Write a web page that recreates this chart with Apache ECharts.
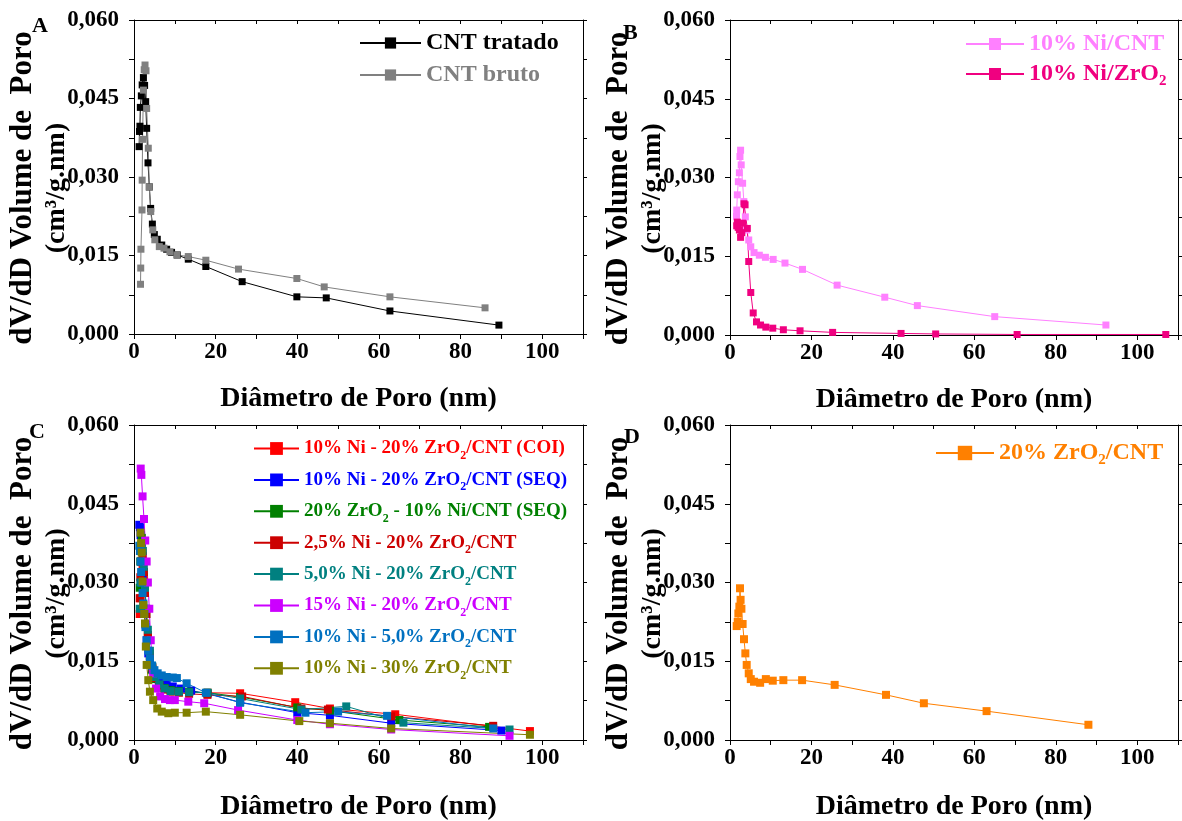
<!DOCTYPE html>
<html><head><meta charset="utf-8">
<script src="https://cdn.jsdelivr.net/npm/echarts@6/dist/echarts.min.js"></script>
<style>html,body{margin:0;padding:0;background:#fff}#c{width:1182px;height:821px}</style>
</head><body><div id="c"></div>
<script>
// ---------- Panel A ----------
const aTratadoX = [1.25,1.35,1.45,1.55,1.8,2.0,2.3,2.6,2.86,3.1,3.43,3.76,4.08,4.5,4.98,5.7,6.8,8.0,9.2,10.6,13.3,17.6,26.5,39.9,47.1,62.7,89.4];
const aTratadoY = [0.0358,0.0387,0.0397,0.0433,0.0455,0.0476,0.049,0.0475,0.0444,0.0393,0.0327,0.0281,0.024,0.021,0.019,0.0181,0.017,0.0162,0.0156,0.0151,0.0143,0.0129,0.0100,0.0071,0.0069,0.0044,0.0017];
const aBrutoX = [1.6,1.65,1.7,1.96,2.0,2.1,2.3,2.5,2.7,2.94,3.1,3.5,3.75,4.1,4.6,5.1,6.2,7.35,8.8,10.5,13.3,17.6,25.6,39.9,46.6,62.7,86];
const aBrutoY = [0.0095,0.0126,0.0162,0.0237,0.0294,0.0372,0.0466,0.0505,0.0514,0.0503,0.0431,0.0355,0.0281,0.0234,0.0199,0.018,0.0167,0.0164,0.0157,0.0151,0.0148,0.0141,0.0124,0.0106,0.009,0.0071,0.005];
// ---------- Panel B ----------
const bNiCntX = [1.6,1.65,1.8,2.05,2.3,2.45,2.6,2.75,3.1,3.4,3.77,4.1,4.6,5.1,5.9,7.2,8.7,10.6,13.5,17.8,26.3,38,46,65,92.3];
const bNiCntY = [0.0226,0.0238,0.0267,0.0292,0.0309,0.034,0.0352,0.0324,0.0289,0.0254,0.0225,0.02,0.0181,0.0168,0.0157,0.0152,0.0148,0.0144,0.0137,0.0125,0.0095,0.0072,0.0056,0.0035,0.0019];
const bNiZrX = [1.64,1.8,2.0,2.3,2.6,2.9,3.1,3.44,3.7,4.25,4.6,5.1,5.7,6.5,7.5,8.8,10.5,13.1,17.2,25.2,42,50.5,70.5,107];
const bNiZrY = [0.0208,0.0215,0.0205,0.02,0.0186,0.0195,0.0213,0.025,0.0248,0.0203,0.014,0.0081,0.0042,0.0025,0.0019,0.0015,0.0013,0.001,0.0008,0.0005,0.0003,0.0002,0.0001,0.0001];
// ---------- Panel C ----------
const cCoiX = [1.4,1.55,1.7,1.9,2.1,2.4,2.7,3.0,3.4,3.9,4.5,5.2,6.2,7.5,9.0,11.0,13.5,18,26,39.5,48,64,97];
const cCoiY = [0.024,0.027,0.03,0.032,0.033,0.031,0.028,0.024,0.02,0.016,0.0135,0.0118,0.0105,0.0098,0.0094,0.0092,0.0091,0.009,0.0089,0.0072,0.006,0.0049,0.0017];
const cSeqX = [1.3,1.45,1.6,1.75,1.9,2.1,2.3,2.55,2.8,3.1,3.5,3.9,4.4,5.0,5.8,6.8,8.0,9.5,11.5,14,18,26,40,48,63,90];
const cSeqY = [0.041,0.0405,0.039,0.037,0.034,0.031,0.028,0.025,0.022,0.019,0.0165,0.0148,0.0135,0.0125,0.0117,0.0111,0.0106,0.0102,0.0098,0.0094,0.0088,0.0072,0.0052,0.0047,0.0032,0.0018];
const cZrNiX = [1.4,1.55,1.7,1.9,2.1,2.4,2.7,3.0,3.4,3.9,4.5,5.2,6.2,7.5,9.0,11.0,13.5,18,26,40,48,65,87];
const cZrNiY = [0.029,0.034,0.037,0.0385,0.036,0.032,0.028,0.024,0.0195,0.016,0.0133,0.0116,0.0105,0.0099,0.0095,0.0093,0.0092,0.009,0.0082,0.0062,0.0056,0.0038,0.0025];
const cNi25X = [1.4,1.55,1.7,1.9,2.1,2.4,2.7,3.0,3.4,3.9,4.5,5.2,6.2,7.5,9.0,11.0,13.5,18,26.5,41,47.5,63,88];
const cNi25Y = [0.027,0.031,0.034,0.036,0.035,0.032,0.028,0.024,0.02,0.0165,0.0138,0.0118,0.0104,0.0096,0.0092,0.009,0.0088,0.0086,0.0083,0.006,0.0058,0.0045,0.0027];
const cNi50X = [1.4,1.55,1.7,1.9,2.1,2.4,2.7,3.0,3.4,3.9,4.5,5.2,6.2,7.5,9.0,11.0,13.5,18,26,41,52,66,92];
const cNi50Y = [0.025,0.03,0.034,0.037,0.036,0.033,0.029,0.025,0.021,0.017,0.014,0.012,0.0106,0.0098,0.0093,0.0092,0.0091,0.009,0.0079,0.0058,0.0064,0.0033,0.002];
const cNi15X = [1.64,1.8,2.1,2.45,2.75,3.1,3.4,3.75,4.1,4.7,5.4,6.4,7.6,8.8,10,13.3,17.2,25.5,40,48,63,92];
const cNi15Y = [0.0517,0.0505,0.0464,0.0421,0.038,0.034,0.03,0.025,0.019,0.0127,0.0098,0.0083,0.0078,0.0076,0.0076,0.0073,0.007,0.0057,0.0038,0.003,0.002,0.0008];
const cZr5X = [1.3,1.45,1.6,1.75,1.9,2.1,2.3,2.55,2.8,3.1,3.5,3.9,4.4,5.0,5.8,6.8,8.0,9.5,10.5,12.9,17.6,26,42,50,62,88];
const cZr5Y = [0.037,0.036,0.034,0.032,0.03,0.028,0.026,0.024,0.0215,0.019,0.017,0.0155,0.0142,0.0133,0.0127,0.0123,0.012,0.0119,0.0118,0.0108,0.009,0.0071,0.0052,0.0054,0.0046,0.0022];
const cZr30X = [1.6,1.75,1.9,2.1,2.3,2.5,2.7,2.9,3.1,3.5,3.9,4.7,5.7,6.8,8.4,10,12.9,17.6,26,40.5,48,63,97];
const cZr30Y = [0.0395,0.0375,0.0357,0.0302,0.0257,0.024,0.0222,0.0178,0.0143,0.0114,0.0092,0.0076,0.006,0.0054,0.0051,0.0052,0.0052,0.0054,0.0048,0.0036,0.0032,0.0022,0.001];
// ---------- Panel D ----------
const dZrCntX = [1.64,1.9,2.05,2.3,2.45,2.6,2.8,3.1,3.44,3.77,4.1,4.6,5.1,5.9,7.4,8.8,10.5,13.1,17.7,25.7,38.3,47.6,63,88];
const dZrCntY = [0.0217,0.0225,0.0241,0.0254,0.0289,0.0267,0.025,0.0221,0.0192,0.0165,0.0143,0.0127,0.0116,0.0111,0.0109,0.0116,0.0113,0.0114,0.0114,0.0105,0.0086,0.007,0.0055,0.0029];

// labels: [before subscript, subscript, after]
const aNames = ['CNT tratado','CNT bruto'];
const aLabels = [['CNT tratado','',''],['CNT bruto','','']];
const bNames = ['10% Ni/CNT','10% Ni/ZrO2'];
const bLabels = [['10% Ni/CNT','',''],['10% Ni/ZrO','2','']];
const cNames = ['10% Ni - 20% ZrO2/CNT (COI)','10% Ni - 20% ZrO2/CNT (SEQ)','20% ZrO2 - 10% Ni/CNT (SEQ)','2,5% Ni - 20% ZrO2/CNT','5,0% Ni - 20% ZrO2/CNT','15% Ni - 20% ZrO2/CNT','10% Ni - 5,0% ZrO2/CNT','10% Ni - 30% ZrO2/CNT'];
const cLabels = [['10% Ni - 20% ZrO','2','/CNT (COI)'],['10% Ni - 20% ZrO','2','/CNT (SEQ)'],['20% ZrO','2',' - 10% Ni/CNT (SEQ)'],['2,5% Ni - 20% ZrO','2','/CNT'],['5,0% Ni - 20% ZrO','2','/CNT'],['15% Ni - 20% ZrO','2','/CNT'],['10% Ni - 5,0% ZrO','2','/CNT'],['10% Ni - 30% ZrO','2','/CNT']];
const dNames = ['20% ZrO2/CNT'];
const dLabels = [['20% ZrO','2','/CNT']];
const yTitleLine1 = 'dV/dD Volume de  Poro';
const yTitleLine2 = '(cm³/g.nm)';
const xTitle = 'Diâmetro de Poro (nm)';

const FONT = '"Liberation Serif","Times New Roman",serif';
const zip = (xs, ys) => xs.map((x, i) => [x, ys[i]]);

const grids = [
  {left:134, top:20, width:449, height:314, outerBoundsMode:'none', containLabel:false},
  {left:730, top:20, width:448, height:315, outerBoundsMode:'none', containLabel:false},
  {left:134, top:425, width:449, height:315, outerBoundsMode:'none', containLabel:false},
  {left:730, top:425, width:448, height:315, outerBoundsMode:'none', containLabel:false}
];

const xAxes = [], yAxes = [];
grids.forEach((g, gi) => {
  xAxes.push({
    type:'value', gridIndex:gi, min:0, max:110, interval:10, position:'bottom',
    axisLine:{show:true, onZero:false, lineStyle:{color:'#000', width:1}},
    axisTick:{show:true, inside:false, length:5, lineStyle:{color:'#000'}},
    axisLabel:{interval:0, margin:7, fontSize:23, fontWeight:'bold', fontFamily:FONT, color:'#000',
      formatter: v => (Math.round(v) % 20 === 0 ? String(Math.round(v)) : '')},
    splitLine:{show:false},
    name:xTitle, nameLocation:'middle', nameGap:(gi < 2 ? 51 : 53),
    nameTextStyle:{fontSize:28, fontWeight:'bold', fontFamily:FONT, color:'#000'}
  });
  yAxes.push({
    type:'value', gridIndex:gi, min:0, max:0.06, interval:0.0075, position:'left',
    axisLine:{show:true, onZero:false, lineStyle:{color:'#000', width:1}},
    axisTick:{show:true, inside:false, length:5, lineStyle:{color:'#000'}},
    axisLabel:{margin:15, fontSize:23, fontWeight:'bold', fontFamily:FONT, color:'#000',
      formatter: v => (Math.round(v / 0.0075) % 2 === 0 ? v.toFixed(3).replace('.', ',') : '')},
    splitLine:{show:false},
    name:'{a|' + yTitleLine1 + '}\n{b|' + yTitleLine2 + '}', nameLocation:'middle', nameRotate:90, nameGap:60, nameMoveOverlap:false,
    nameTextStyle:{fontSize:31, fontWeight:'bold', fontFamily:FONT, color:'#000', lineHeight:34, padding:[0,22,0,0],
      rich:{
        a:{fontSize:31, fontWeight:'bold', fontFamily:FONT, color:'#000', lineHeight:34},
        b:{fontSize:28, fontWeight:'bold', fontFamily:FONT, color:'#000', lineHeight:34}
      }}
  });
});
grids.forEach((g, gi) => {
  xAxes.push({
    type:'value', gridIndex:gi, min:0, max:110, interval:10, position:'top',
    axisLine:{show:true, onZero:false, lineStyle:{color:'#000', width:1}},
    axisTick:{show:true, inside:true, length:4, lineStyle:{color:'#000'}},
    axisLabel:{show:false}, splitLine:{show:false}
  });
  yAxes.push({
    type:'value', gridIndex:gi, min:0, max:0.06, interval:0.0075, position:'right',
    axisLine:{show:true, onZero:false, lineStyle:{color:'#000', width:1}},
    axisTick:{show:true, inside:false, length:4, lineStyle:{color:'#000'}},
    axisLabel:{show:false}, splitLine:{show:false}
  });
});

function mkSeries(name, xs, ys, color, gi, size) {
  return {
    name, type:'line', xAxisIndex:gi, yAxisIndex:gi, data:zip(xs, ys),
    symbol:'rect', symbolSize:size, showAllSymbol:true,
    lineStyle:{color, width:1}, itemStyle:{color}, color,
    emphasis:{disabled:true}, animation:false
  };
}

const series = [
  mkSeries(aNames[0], aTratadoX, aTratadoY, '#000000', 0, 7),
  mkSeries(aNames[1], aBrutoX, aBrutoY, '#808080', 0, 7),
  mkSeries(bNames[0], bNiCntX, bNiCntY, '#FF80FF', 1, 7),
  mkSeries(bNames[1], bNiZrX, bNiZrY, '#F00080', 1, 7),
  mkSeries(cNames[0], cCoiX, cCoiY, '#FF0000', 2, 8),
  mkSeries(cNames[1], cSeqX, cSeqY, '#0000FF', 2, 8),
  mkSeries(cNames[2], cZrNiX, cZrNiY, '#008000', 2, 8),
  mkSeries(cNames[3], cNi25X, cNi25Y, '#CC0000', 2, 8),
  mkSeries(cNames[4], cNi50X, cNi50Y, '#008080', 2, 8),
  mkSeries(cNames[5], cNi15X, cNi15Y, '#CC00FF', 2, 8),
  mkSeries(cNames[6], cZr5X, cZr5Y, '#0070C0', 2, 8),
  mkSeries(cNames[7], cZr30X, cZr30Y, '#808000', 2, 8),
  mkSeries(dNames[0], dZrCntX, dZrCntY, '#FF8000', 3, 8)
];

const colorOf = {};
series.forEach(s => { colorOf[s.name] = s.color; });

function mkLegend(names, labels, o) {
  const rich = {};
  names.forEach((n, i) => {
    rich['t' + i] = {fontFamily:FONT, fontWeight:'bold', fontSize:o.fs, lineHeight:o.lh, color:colorOf[n]};
    rich['s' + i] = {fontFamily:FONT, fontWeight:'bold', fontSize:o.sfs, lineHeight:o.sfs, color:colorOf[n], verticalAlign:'bottom'};
  });
  return {
    orient:'vertical', left:o.left, top:o.top, padding:0, itemWidth:o.iw, itemHeight:o.ih, itemGap:o.gap,
    selectedMode:false, data:names, textStyle:{rich},
    formatter: name => {
      const i = names.indexOf(name);
      const [a, b, c] = labels[i];
      let s = '{t' + i + '|' + a + '}';
      if (b) s += '{s' + i + '|' + b + '}';
      if (c) s += '{t' + i + '|' + c + '}';
      return s;
    }
  };
}

const legends = [
  mkLegend(aNames, aLabels, {left:359, top:31, iw:61, ih:14, gap:8, fs:24, lh:30, sfs:15}),
  mkLegend(bNames, bLabels, {left:965, top:32, iw:58, ih:15, gap:6, fs:24, lh:30, sfs:15}),
  mkLegend(cNames, cLabels, {left:253, top:439, iw:45, ih:16, gap:8.4, fs:19, lh:27, sfs:12}),
  mkLegend(dNames, dLabels, {left:935, top:441, iw:58, ih:18, gap:0, fs:24, lh:30, sfs:15})
];

const letter = (t, x, y) => ({type:'text', left:x, top:y, style:{text:t, font:'bold 22px ' + FONT, fill:'#000'}});

const chart = echarts.init(document.getElementById('c'), null, {renderer:'canvas'});
chart.setOption({
  backgroundColor:'#ffffff',
  animation:false,
  grid:grids,
  xAxis:xAxes,
  yAxis:yAxes,
  legend:legends,
  series:series,
  graphic:[letter('A', 32, 15), letter('B', 623, 22), letter('C', 29, 421), letter('D', 624, 426)]
});
</script></body></html>
